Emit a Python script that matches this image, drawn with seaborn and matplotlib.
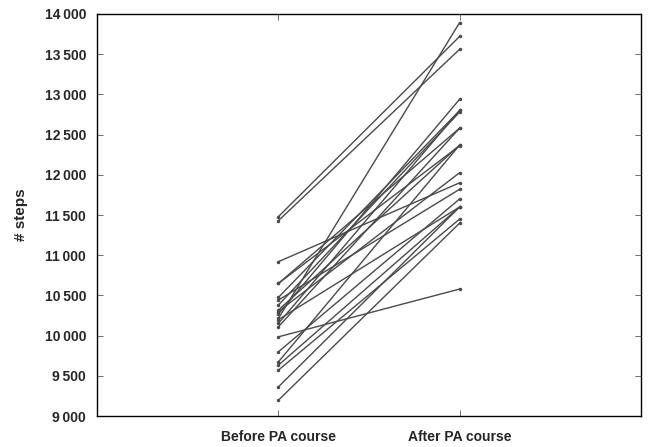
import matplotlib
matplotlib.use('Agg')
import matplotlib.pyplot as plt
import seaborn as sns
import pandas as pd

# steps per subject
before = [11480, 11430, 10920, 10650, 10476, 10443, 10381, 10318, 10269, 10215, 10153,
          10111, 9986, 9800, 9675, 9634, 9572, 9364, 9199, 10300, 10200, 10650]
after = [13720, 13560, 11900, 12580, 12800, 11820, 12780, 12370, 12939, 13892, 12800,
         12580, 10580, 11700, 12370, 11600, 11450, 11600, 11400, 12026, 11600, 12362]
periods = ['Before PA course', 'After PA course']
yticks = [9000, 9500, 10000, 10500, 11000, 11500, 12000, 12500, 13000, 13500, 14000]

rows = []
for i, (b, a) in enumerate(zip(before, after)):
    rows.append({'subject': i, 'period': periods[0], 'steps': b})
    rows.append({'subject': i, 'period': periods[1], 'steps': a})
df = pd.DataFrame(rows)

sns.set_style('ticks')
plt.rcParams['font.family'] = ['Liberation Sans', 'DejaVu Sans']

fig = plt.figure(figsize=(6.48, 4.47), dpi=100)
ax = fig.add_axes([0.150, 0.069, 0.839, 0.900])

sns.lineplot(data=df, x='period', y='steps', units='subject', estimator=None,
             color='#4a4a4a', linewidth=1.0, marker='o', markersize=2.5,
             markeredgewidth=0, ax=ax)

ax.set_xlim(-1, 2)
ax.set_ylim(9000, 14000)
ax.set_yticks(yticks)
ax.set_yticklabels([f'{v:,}'.replace(',', '\u2009') for v in yticks],
                   fontweight='bold', fontsize=10)
ax.set_xticks([0, 1])
ax.set_xticklabels(periods, fontweight='bold', fontsize=10)
ax.set_xlabel('')
ax.set_ylabel('# steps', fontweight='bold', fontsize=11, labelpad=12)
ax.tick_params(direction='in', top=True, right=True, length=4, width=0.6, color='#555555')
ax.tick_params(axis='x', pad=10)
ax.tick_params(axis='y', pad=8)
for s in ax.spines.values():
    s.set_visible(True)
    s.set_linewidth(1.0)
    s.set_color('black')

fig.savefig('out.png', dpi=100)
